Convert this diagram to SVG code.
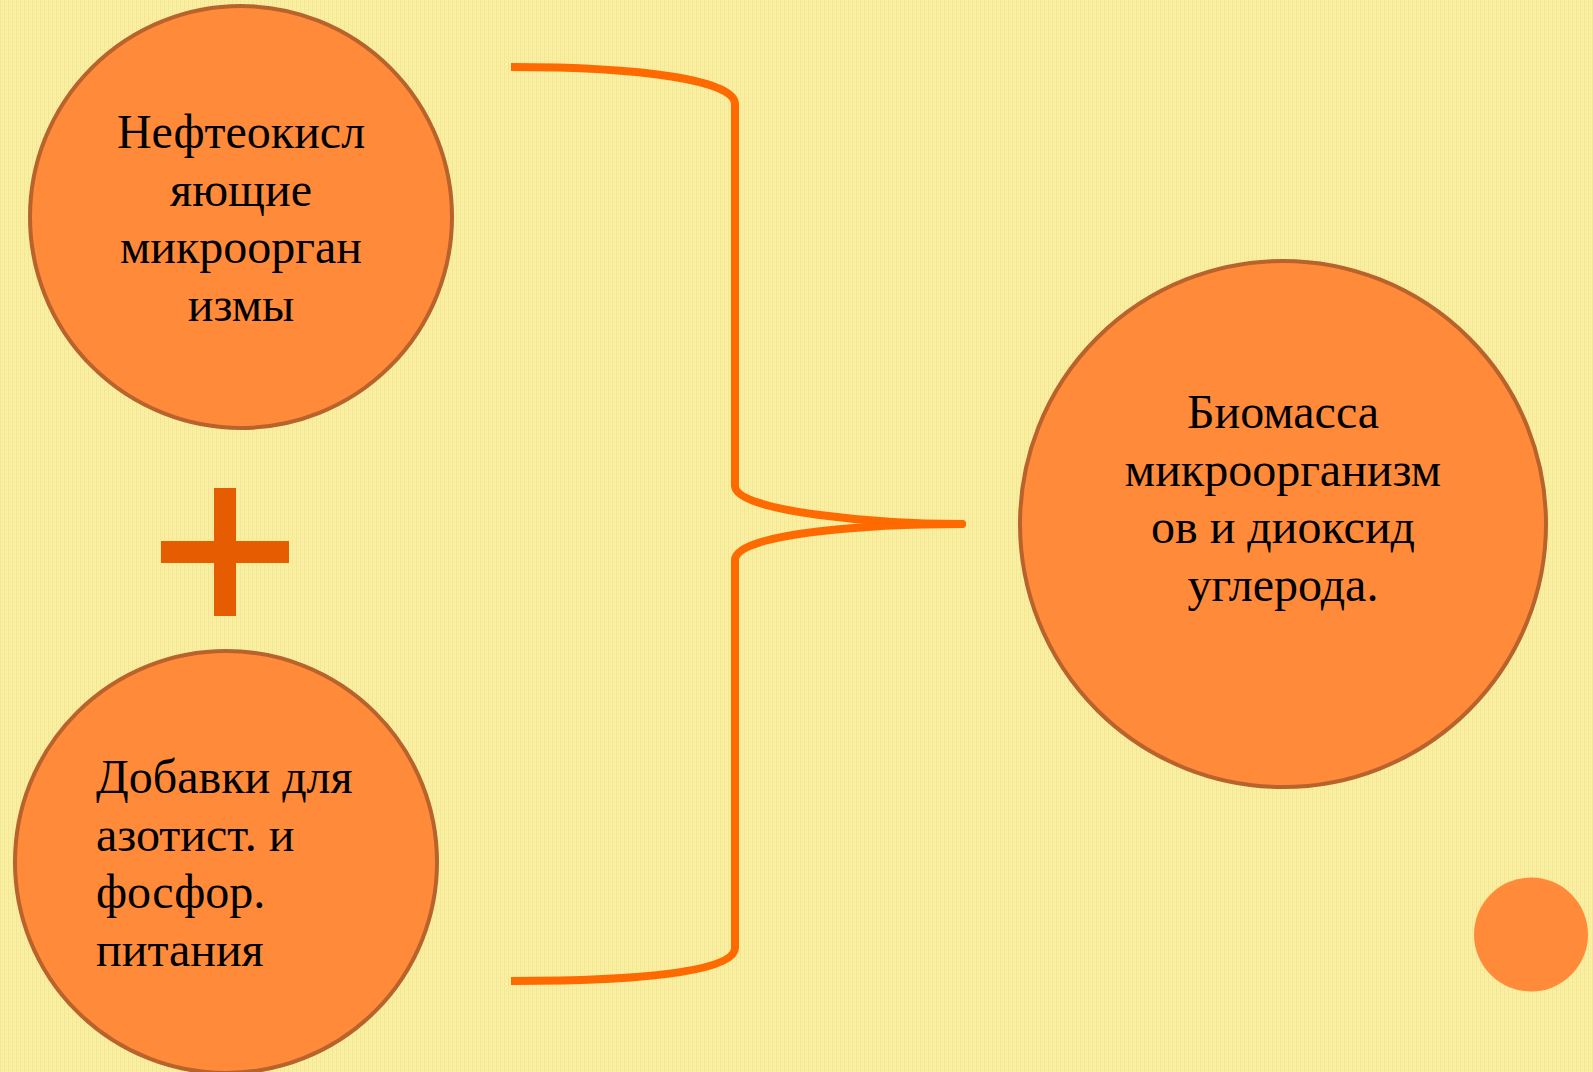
<svg xmlns="http://www.w3.org/2000/svg" width="1593" height="1072" viewBox="0 0 1593 1072">
  <defs>
    <pattern id="bgtex" width="4" height="4" patternUnits="userSpaceOnUse">
      <rect width="4" height="4" fill="#FAF0A2"/>
      <rect x="0" y="0" width="1" height="4" fill="#F3E694"/>
      <rect x="2" y="1" width="1" height="2" fill="#F6EA9A"/>
    </pattern>
  </defs>
  <style>
    .node { fill: #FF8A3A; stroke: #B8622C; stroke-width: 4; }
    .label { font-family: "Liberation Serif", "Times New Roman", serif; font-size: 48px; fill: #000000; }
    .brace { fill: none; stroke: #FF6A00; stroke-width: 8; stroke-linecap: butt; stroke-linejoin: round; }
  </style>
  <rect width="1593" height="1072" fill="url(#bgtex)"/>

  <g id="connectors">
    <path class="brace" d="M511,67 C640,67 735,80 735,104 L735,486 C735,512 880,524 962,524 C880,524 735,532 735,560 L735,948 C735,972 640,981 511,981"/>
    <circle cx="962" cy="524" r="4" fill="#FF6A00"/>
  </g>

  <g id="node-oil">
    <circle class="node" cx="241" cy="217" r="211"/>
    <text class="label" text-anchor="middle"><tspan x="241" y="148">Нефтеокисл</tspan><tspan x="241" y="205.6">яющие</tspan><tspan x="241" y="263.2">микроорган</tspan><tspan x="241" y="320.8">измы</tspan></text>
  </g>

  <g id="plus">
    <rect x="214" y="488" width="22" height="128" fill="#E65C00"/>
    <rect x="161" y="541" width="128" height="22" fill="#E65C00"/>
  </g>

  <g id="node-additives">
    <circle class="node" cx="226" cy="862" r="211"/>
    <text class="label"><tspan x="96" y="793">Добавки для</tspan><tspan x="96" y="850.6">азотист. и</tspan><tspan x="96" y="908.2">фосфор.</tspan><tspan x="96" y="965.8">питания</tspan></text>
  </g>

  <g id="node-biomass">
    <circle class="node" cx="1283" cy="524" r="263"/>
    <text class="label" text-anchor="middle"><tspan x="1283" y="428">Биомасса</tspan><tspan x="1283" y="485.6">микроорганизм</tspan><tspan x="1283" y="543.2">ов и диоксид</tspan><tspan x="1283" y="600.8">углерода.</tspan></text>
  </g>

  <g id="deco">
    <circle cx="1531" cy="934.5" r="57" fill="#FF8A3A"/>
  </g>
</svg>
